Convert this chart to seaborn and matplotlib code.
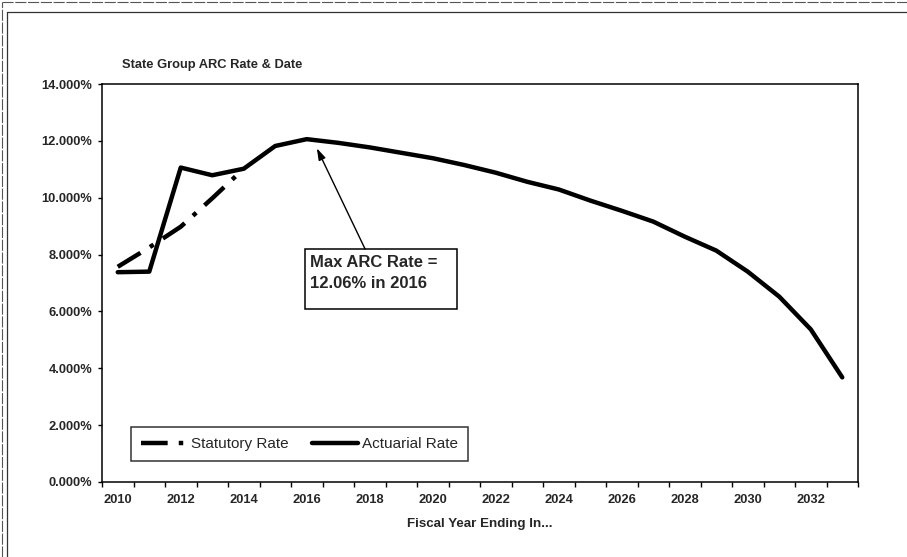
import numpy as np
import pandas as pd
import matplotlib
matplotlib.use("Agg")
import matplotlib.pyplot as plt
from matplotlib.patches import Rectangle
from matplotlib.lines import Line2D
from matplotlib.ticker import FixedLocator, FuncFormatter
import seaborn as sns

# Fiscal years on the category axis
YEARS = list(range(2010, 2034))

# Actuarial ARC rate (%) by fiscal year
ACTUARIAL = [7.38, 7.40, 11.06, 10.79, 11.02, 11.82, 12.06, 11.93, 11.77, 11.58,
             11.39, 11.15, 10.88, 10.56, 10.29, 9.90, 9.54, 9.16, 8.63, 8.14,
             7.40, 6.52, 5.37, 3.68]

# Statutory rate (%) during the phase-in years
STAT_YEARS = [2010, 2011, 2012, 2013, 2014]
STATUTORY = [7.57, 8.25, 8.98, 9.98, 11.02]

Y_TICKS = [0, 2, 4, 6, 8, 10, 12, 14]
X_LABEL_YEARS = list(range(2010, 2034, 2))

sns.set_style("white")
plt.rcParams["font.family"] = ["Liberation Sans", "DejaVu Sans"]

actuarial_df = pd.DataFrame({"year": YEARS, "rate": np.array(ACTUARIAL) / 100})
statutory_df = pd.DataFrame({"year": STAT_YEARS, "rate": np.array(STATUTORY) / 100})

fig = plt.figure(figsize=(9.07, 5.57), dpi=100)
ax = fig.add_axes([0.11246, 0.13465, 0.83352, 0.71454])

LW = 3.2
stat_style = (0, (6, 2.5, 1, 2.5))
sns.lineplot(data=statutory_df, x="year", y="rate", ax=ax, color="black",
             linewidth=LW, linestyle=stat_style, solid_capstyle="butt")
sns.lineplot(data=actuarial_df, x="year", y="rate", ax=ax, color="black",
             linewidth=LW, solid_joinstyle="round")

ax.set_xlim(YEARS[0] - 0.5, YEARS[-1] + 0.5)
ax.set_ylim(0, 0.14)

# Labels every other year, tick marks on the category boundaries
ax.xaxis.set_major_locator(FixedLocator(X_LABEL_YEARS))
ax.xaxis.set_minor_locator(FixedLocator([y - 0.5 for y in YEARS] + [YEARS[-1] + 0.5]))
ax.tick_params(axis="x", which="major", length=0, pad=8.5, labelsize=9.3)
ax.tick_params(axis="x", which="minor", length=3.5, width=1, direction="out",
               color="black", bottom=True)
ax.set_xticklabels([str(y) for y in X_LABEL_YEARS], fontweight="bold")

ax.yaxis.set_major_locator(FixedLocator([t / 100 for t in Y_TICKS]))
ax.yaxis.set_major_formatter(FuncFormatter(lambda v, _: f"{v * 100:.3f}%"))
ax.tick_params(axis="y", which="major", length=3, width=1, direction="out",
               color="black", left=True, pad=4, labelsize=9.3)
for lab in ax.get_yticklabels():
    lab.set_fontweight("bold")

for side in ["left", "right", "top", "bottom"]:
    ax.spines[side].set_visible(True)
    ax.spines[side].set_color("black")
    ax.spines[side].set_linewidth(1.1)

ax.set_xlabel("Fiscal Year Ending In...", fontsize=9.6, fontweight="bold", va="center")
ax.xaxis.set_label_coords(0.5, -0.1055)
ax.set_ylabel("")

ax.text(0.0265, 1.0477, "State Group ARC Rate & Date", transform=ax.transAxes,
        ha="left", va="center", fontsize=9.3, fontweight="bold")

# Callout for the peak actuarial rate
peak_idx = int(np.argmax(ACTUARIAL))
peak_year = YEARS[peak_idx]
peak_rate = ACTUARIAL[peak_idx]
ax.add_patch(Rectangle((0.2685, 0.4339), 0.2011, 0.1508, transform=ax.transAxes,
                       facecolor="white", edgecolor="black", linewidth=1.1, zorder=4))
ax.text(0.2751, 0.5695, f"Max ARC Rate =\n{peak_rate:.2f}% in {peak_year}",
        transform=ax.transAxes, ha="left", va="top", fontsize=12,
        fontweight="bold", linespacing=1.5, zorder=5)
ax.annotate("", xy=(peak_year + 0.32, (peak_rate - 0.32) / 100),
            xytext=(0.348, 0.5854), textcoords="axes fraction",
            arrowprops=dict(arrowstyle="-|>,head_length=0.7,head_width=0.22",
                            color="black", linewidth=1.0, shrinkA=0, shrinkB=0),
            zorder=5)

handles = [Line2D([], [], color="black", linewidth=LW, linestyle=stat_style),
           Line2D([], [], color="black", linewidth=LW)]
leg = ax.legend(handles, ["Statutory Rate", "Actuarial Rate"], loc="lower left",
                bbox_to_anchor=(0.0384, 0.0528), ncol=2, frameon=True,
                fancybox=False, edgecolor="black", fontsize=11,
                handlelength=3.0, handletextpad=0.25, columnspacing=1.55,
                borderpad=0.65, borderaxespad=0)
leg.get_frame().set_linewidth(1.1)

# Page frame around the chart
fig.add_artist(Line2D([7 / 907, 1], [1 - 12 / 557, 1 - 12 / 557], transform=fig.transFigure,
                      color="#333333", linewidth=0.9))
fig.add_artist(Line2D([7 / 907, 7 / 907], [0, 1 - 12 / 557], transform=fig.transFigure,
                      color="#333333", linewidth=0.9))
fig.add_artist(Line2D([1.5 / 907, 1], [1 - 1.5 / 557, 1 - 1.5 / 557], transform=fig.transFigure,
                      color="#555555", linewidth=0.8, linestyle=(0, (10, 1.5))))
fig.add_artist(Line2D([1.5 / 907, 1.5 / 907], [0, 1 - 1.5 / 557], transform=fig.transFigure,
                      color="#555555", linewidth=0.8, linestyle=(0, (10, 1.5))))

fig.savefig("out.png", dpi=100, facecolor="white")
